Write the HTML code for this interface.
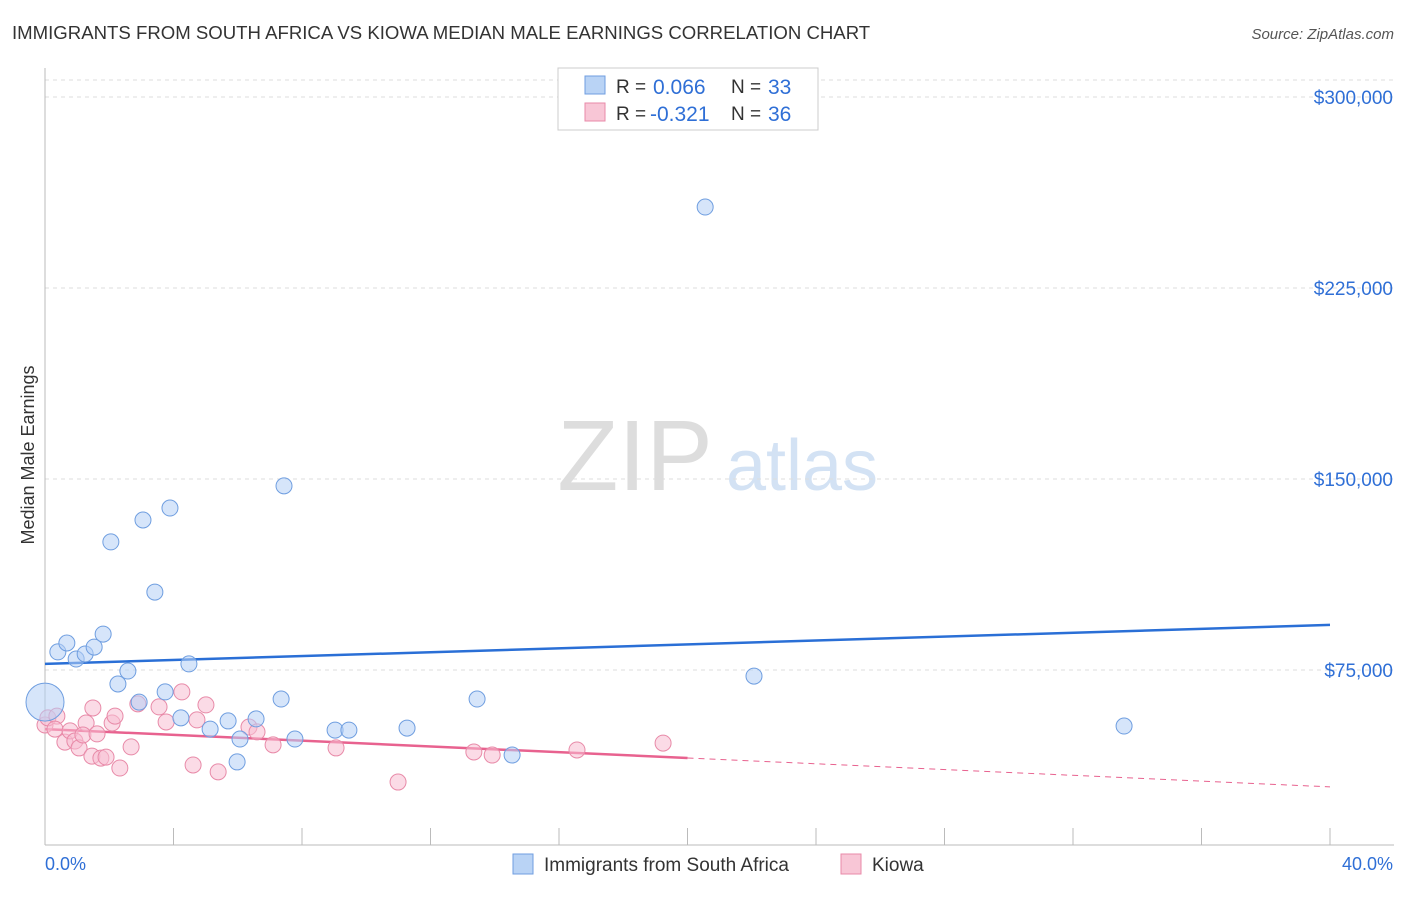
<!DOCTYPE html>
<html><head><meta charset="utf-8"><style>
body{margin:0;background:#fff;font-family:"Liberation Sans",sans-serif;}
svg text{font-family:"Liberation Sans",sans-serif;}
</style></head><body>
<svg id="chart" width="1406" height="892" xmlns="http://www.w3.org/2000/svg">
<text x="12" y="39" font-size="18.6" fill="#333">IMMIGRANTS FROM SOUTH AFRICA VS KIOWA MEDIAN MALE EARNINGS CORRELATION CHART</text>
<text x="1394" y="39" font-size="15" fill="#555" text-anchor="end" font-style="italic">Source: ZipAtlas.com</text>
<text x="34" y="455" font-size="18" fill="#333" text-anchor="middle" transform="rotate(-90 34 455)">Median Male Earnings</text>
<g><text x="635" y="490" font-size="100" fill="#ddd" font-family="Liberation Serif" text-anchor="middle">ZIP</text><text x="802" y="490" font-size="72" fill="#d3e2f4" text-anchor="middle">atlas</text></g>
<g id="grid"></g><g id="axes"></g><g id="trends"></g><g id="pts"></g>
<g>
<rect x="558" y="68" width="260" height="62" fill="#fff" stroke="#ccc"/>
<rect x="585" y="76" width="20" height="18" fill="#b9d3f5" stroke="#6f9ee0"/>
<text x="616" y="93" font-size="19" fill="#333">R =</text><text x="653" y="94" font-size="21" fill="#2f6fd6">0.066</text>
<text x="731" y="93" font-size="19" fill="#333">N =</text><text x="768" y="94" font-size="21" fill="#2f6fd6">33</text>
<rect x="585" y="103" width="20" height="18" fill="#f8c6d6" stroke="#e88aa8"/>
<text x="616" y="120" font-size="19" fill="#333">R =</text><text x="650" y="121" font-size="21" fill="#2f6fd6">-0.321</text>
<text x="731" y="120" font-size="19" fill="#333">N =</text><text x="768" y="121" font-size="21" fill="#2f6fd6">36</text>
</g>
<g>
<rect x="513" y="854" width="20" height="20" fill="#b9d3f5" stroke="#6f9ee0"/>
<text x="544" y="871" font-size="19" fill="#333">Immigrants from South Africa</text>
<rect x="841" y="854" width="20" height="20" fill="#f8c6d6" stroke="#e88aa8"/>
<text x="872" y="871" font-size="19" fill="#333">Kiowa</text>
</g>
<text x="45" y="870" font-size="18" fill="#2f6fd6">0.0%</text>
<text x="1393" y="870" font-size="18" fill="#2f6fd6" text-anchor="end">40.0%</text>
</svg>
<script>
const yTicks=[75,150,225,300];
const yTickLabels=["$75,000","$150,000","$225,000","$300,000"];
const blueX=[0,0.40,0.68,0.97,1.25,1.53,1.81,2.05,2.27,2.58,2.93,3.05,3.42,3.74,3.89,4.23,4.48,5.14,5.70,6.07,5.98,6.57,7.35,7.44,7.78,9.03,9.46,11.27,13.45,14.54,20.55,22.07,33.59];
const blueY=[62.4,82.1,85.6,79.3,81.3,84.0,89.1,125.3,69.5,74.6,62.4,133.9,105.6,66.4,138.6,56.2,77.4,51.8,55.0,47.9,38.9,55.8,63.6,147.3,47.9,51.4,51.4,52.2,63.6,41.6,256.8,72.6,53.0];
const pinkX=[0,0.09,0.37,0.31,0.62,0.78,0.93,1.06,1.28,1.18,1.46,1.49,1.62,1.74,1.90,2.09,2.18,2.33,2.68,2.89,3.55,3.77,4.26,4.61,4.73,5.01,5.39,6.35,6.60,7.10,9.06,10.99,13.35,13.92,16.56,19.24];
const pinkY=[53.4,56.2,56.9,51.8,46.7,51.1,47.1,44.4,54.2,49.5,41.2,60.1,49.9,40.4,40.8,54.2,56.9,36.5,44.8,61.7,60.5,54.6,66.4,37.7,55.4,61.3,35.0,52.6,50.7,45.6,44.4,31.0,42.8,41.6,43.6,46.3];
const blueTrend=[77.4,92.7];
const pinkTrend=[51.8,29.1];
const NS="http://www.w3.org/2000/svg";
const sx=v=>45+v/40*1285;
const sy=v=>861-v/75*191;
function mk(tag,attrs,parent){const e=document.createElementNS(NS,tag);for(const k in attrs)e.setAttribute(k,attrs[k]);parent.appendChild(e);return e;}
const grid=document.getElementById('grid'),axes=document.getElementById('axes');
yTicks.forEach((t,i)=>{
 const l=mk('line',{x1:45,x2:1394,y1:sy(t),y2:sy(t),stroke:'#ddd','stroke-dasharray':'4,4'},grid);
 
 
 const tx=mk('text',{x:1393,y:sy(t)+7,'font-size':19,fill:'#2f6fd6','text-anchor':'end'},grid);
 tx.textContent=yTickLabels[i];
 
 
});
mk('line',{x1:45,x2:1394,y1:80,y2:80,stroke:'#ddd','stroke-dasharray':'4,4'},grid);
mk('line',{x1:45,x2:45,y1:68,y2:845,stroke:'#bbb'},axes);
mk('line',{x1:45,x2:1394,y1:845,y2:845,stroke:'#bbb'},axes);
for(let p=4;p<=40;p+=4){const t=mk('line',{x1:sx(p),x2:sx(p),y1:828,y2:845,stroke:'#bbb'},axes);
 
 }
const tr=document.getElementById('trends');
const bl=mk('line',{x1:sx(0),y1:sy(blueTrend[0]),x2:sx(40),y2:sy(blueTrend[1]),stroke:'#2a6fd6','stroke-width':2.5},tr);


const pm=(pinkTrend[0]+pinkTrend[1])/2;
const pl=mk('line',{x1:sx(0),y1:sy(pinkTrend[0]),x2:sx(20),y2:sy(pm),stroke:'#e8628f','stroke-width':2.5},tr);


const pd=mk('line',{x1:sx(20),y1:sy(pm),x2:sx(40),y2:sy(pinkTrend[1]),stroke:'#e8628f','stroke-width':1,'stroke-dasharray':'6,5'},tr);


const pts=document.getElementById('pts');
pinkX.forEach((x,i)=>{const c=mk('circle',{cx:sx(x),cy:sy(pinkY[i]),r:8,fill:'rgba(248,190,210,0.55)',stroke:'#e88aa8','stroke-width':1},pts);
 
 });
blueX.forEach((x,i)=>{const c=mk('circle',{cx:sx(x),cy:sy(blueY[i]),r:i===0?19:8,fill:'rgba(180,208,245,0.55)',stroke:'#6f9ee0','stroke-width':1},pts);
 
 });
</script>
</body></html>
